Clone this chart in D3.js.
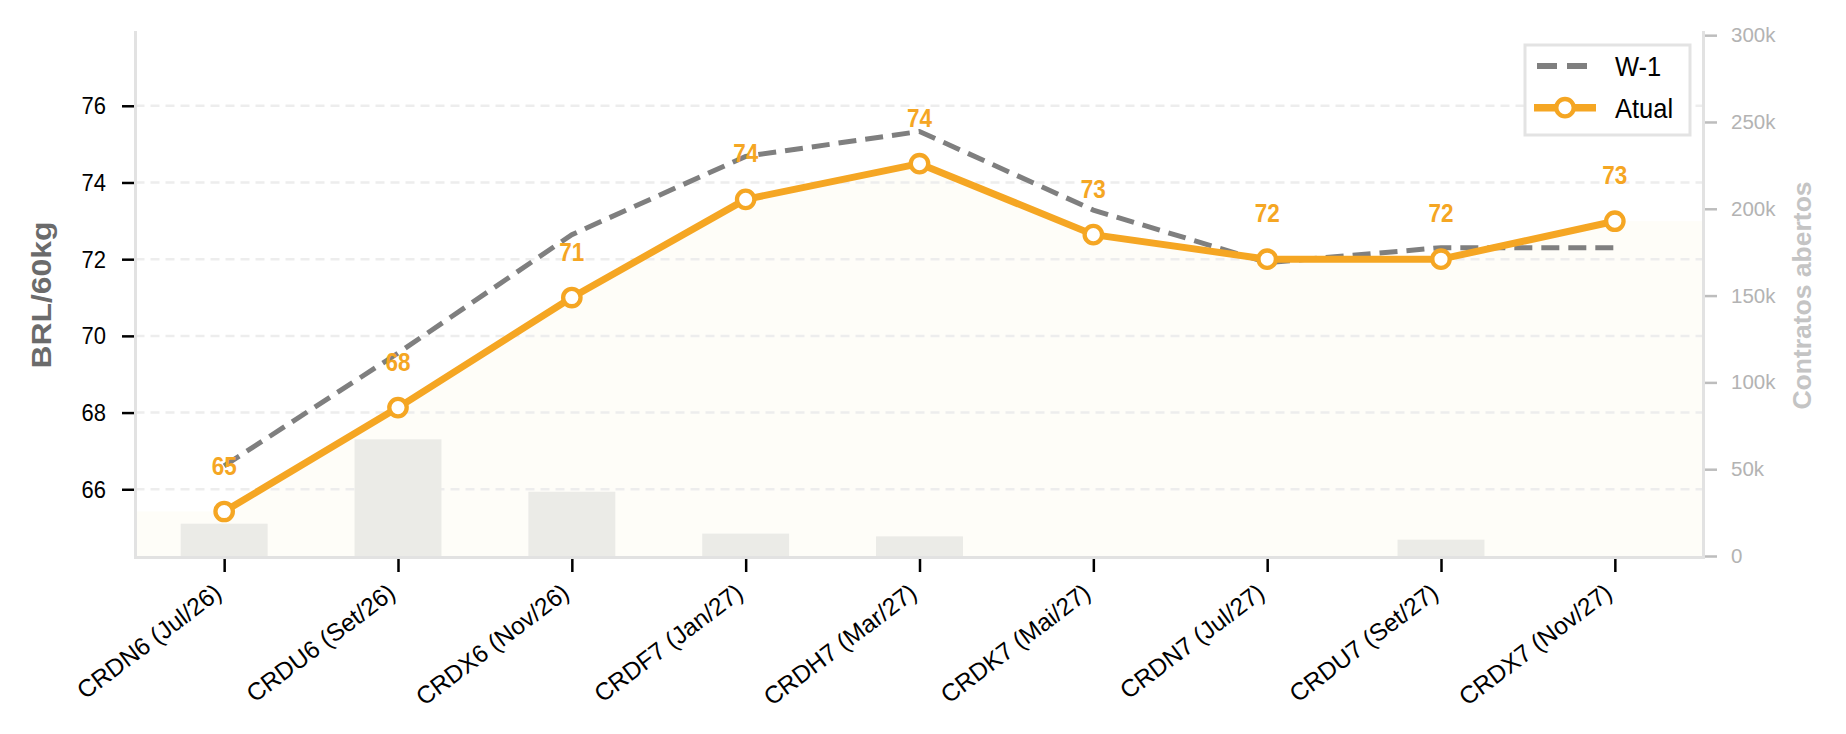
<!DOCTYPE html>
<html>
<head>
<meta charset="utf-8">
<script src="https://cdn.jsdelivr.net/npm/d3@7"></script>
<style>
  html, body { margin: 0; padding: 0; background: #fff; }
  svg { display: block; font-family: "Liberation Sans", Arial, sans-serif; }
</style>
</head>
<body>
<svg id="chart" width="1846" height="734"></svg>
<script>
// contratos da curva (eixo x)
const categories = ["CRDN6 (Jul/26)", "CRDU6 (Set/26)", "CRDX6 (Nov/26)", "CRDF7 (Jan/27)",
  "CRDH7 (Mar/27)", "CRDK7 (Mai/27)", "CRDN7 (Jul/27)", "CRDU7 (Set/27)", "CRDX7 (Nov/27)"];

// precos BRL/60kg
const atual = [65.42, 68.13, 71.0, 73.56, 74.49, 72.64, 72.0, 72.0, 72.99];
const semanaAnterior = [66.61, 69.55, 72.64, 74.68, 75.33, 73.28, 71.91, 72.30, 72.30];

// contratos abertos (barras, eixo direito)
const contratosAbertos = [18600, 67200, 37000, 12900, 11300, 0, 0, 9400, 0];

const leftTicks = [66, 68, 70, 72, 74, 76];
const rightTicks = [0, 50000, 100000, 150000, 200000, 250000, 300000];
const seriesNames = ["W-1", "Atual"];

const ORANGE = "#f5a623";
const GREY = "#7f7f7f";
const TALL = 1.12; // text in the original is drawn a bit taller than wide

const svg = d3.select("#chart");
// plot box
const m = { left: 135.5, right: 1703.5, top: 31, bottom: 556 };

const x = d3.scaleLinear()
  .domain([-0.51, categories.length - 1 + 0.51])
  .range([m.left, m.right]);
const y = d3.scaleLinear().domain([64.26, 77.95]).range([m.bottom, m.top]);
const y2 = d3.scaleLinear()
  .domain([0, d3.max(contratosAbertos) * 4.5])
  .range([m.bottom, m.top]);

// light fill under the current curve, carried flat to both edges
const xd = x.domain();
const fillPts = [[xd[0], atual[0]]]
  .concat(atual.map((v, i) => [i, v]))
  .concat([[xd[1], atual[atual.length - 1]]]);
svg.append("path")
  .datum(fillPts)
  .attr("fill", "#fefdf8")
  .attr("d", d3.area().x(d => x(d[0])).y0(m.bottom).y1(d => y(d[1])));

// horizontal grid
svg.append("g").selectAll("line")
  .data(leftTicks)
  .join("line")
  .attr("x1", m.left).attr("x2", m.right)
  .attr("y1", d => y(d)).attr("y2", d => y(d))
  .attr("stroke", "#ededed")
  .attr("stroke-width", 2.5)
  .attr("stroke-dasharray", "9,6");

// bars (open interest)
svg.append("g").selectAll("rect")
  .data(contratosAbertos.map((v, i) => ({ v, i })).filter(d => d.v > 0))
  .join("rect")
  .attr("x", d => x(d.i - 0.25))
  .attr("width", d => x(d.i + 0.25) - x(d.i - 0.25))
  .attr("y", d => y2(d.v))
  .attr("height", d => y2(0) - y2(d.v))
  .attr("fill", "#ebebe7");

// spines
const spine = svg.append("g").attr("stroke", "#e2e2e2").attr("stroke-width", 3);
spine.append("line").attr("x1", m.left).attr("x2", m.left).attr("y1", m.top).attr("y2", m.bottom + 1.5);
spine.append("line").attr("x1", m.right).attr("x2", m.right).attr("y1", m.top).attr("y2", m.bottom + 1.5);
spine.append("line").attr("x1", m.left - 1.5).attr("x2", m.right + 1.5).attr("y1", m.bottom + 1.5).attr("y2", m.bottom + 1.5);

// left axis
const gl = svg.append("g")
  .attr("transform", `translate(${m.left - 1.5},0)`)
  .call(d3.axisLeft(y).tickValues(leftTicks).tickSize(12).tickPadding(16).tickFormat(d3.format("d")));
gl.select(".domain").remove();
gl.selectAll(".tick line").attr("stroke", "#000").attr("stroke-width", 2.5);
gl.selectAll(".tick text").attr("fill", "#000").style("font-size", "22px")
  .attr("transform", `scale(1,${TALL})`)
  .style("font-family", "'Liberation Sans', Arial, sans-serif");

// right axis
const gr = svg.append("g")
  .attr("transform", `translate(${m.right + 1.5},0)`)
  .call(d3.axisRight(y2).tickValues(rightTicks).tickSize(12).tickPadding(14)
    .tickFormat(d => d === 0 ? "0" : (d / 1000) + "k"));
gr.select(".domain").remove();
gr.selectAll(".tick line").attr("stroke", "#bdbdbd").attr("stroke-width", 2.5);
gr.selectAll(".tick text").attr("fill", "#b3b3b3").style("font-size", "20.5px")
  .style("font-family", "'Liberation Sans', Arial, sans-serif");

// bottom axis: ticks only, labels rotated by hand
const gb = svg.append("g")
  .attr("transform", `translate(0,${m.bottom + 3})`)
  .call(d3.axisBottom(x).tickValues(d3.range(categories.length)).tickSize(13).tickFormat(""));
gb.select(".domain").remove();
gb.selectAll(".tick line").attr("stroke", "#000").attr("stroke-width", 2.5);

svg.append("g").selectAll("text")
  .data(categories)
  .join("text")
  .attr("transform", (d, i) => `translate(${x(i) - 1},596) rotate(-37)`)
  .attr("text-anchor", "end")
  .style("font-size", "24.5px")
  .attr("fill", "#000")
  .text(d => d);

// W-1 dashed line
const line = d3.line().x((d, i) => x(i)).y(d => y(d));
svg.append("path")
  .datum(semanaAnterior)
  .attr("fill", "none")
  .attr("stroke", GREY)
  .attr("stroke-width", 5)
  .attr("stroke-dasharray", "18,9")
  .attr("d", line);

// current line
svg.append("path")
  .datum(atual)
  .attr("fill", "none")
  .attr("stroke", ORANGE)
  .attr("stroke-width", 7)
  .attr("stroke-linejoin", "round")
  .attr("d", line);

svg.append("g").selectAll("circle")
  .data(atual)
  .join("circle")
  .attr("cx", (d, i) => x(i))
  .attr("cy", d => y(d))
  .attr("r", 8.7)
  .attr("fill", "#fff")
  .attr("stroke", ORANGE)
  .attr("stroke-width", 4.3);

// value labels
svg.append("g").selectAll("text")
  .data(atual)
  .join("text")
  .attr("transform", (d, i) => `translate(${x(i)},${y(d) - 37}) scale(1,1.15)`)
  .attr("text-anchor", "middle")
  .attr("fill", ORANGE)
  .style("font-size", "22.5px")
  .style("font-weight", "bold")
  .text(d => d3.format(".0f")(d));

// axis titles
svg.append("text")
  .attr("transform", "translate(41,295) scale(1,1.12) rotate(-90)")
  .attr("text-anchor", "middle")
  .attr("dy", "0.35em")
  .attr("fill", "#6b6b6b")
  .style("font-size", "28.5px")
  .style("font-weight", "bold")
  .text("BRL/60kg");

svg.append("text")
  .attr("transform", "translate(1802,295.5) scale(1,1.06) rotate(-90)")
  .attr("text-anchor", "middle")
  .attr("dy", "0.35em")
  .attr("fill", "#c4c4c4")
  .style("font-size", "25px")
  .style("font-weight", "bold")
  .text("Contratos abertos");

// legend
const lg = svg.append("g");
lg.append("rect")
  .attr("x", 1525).attr("y", 45).attr("width", 165).attr("height", 90)
  .attr("fill", "#fff").attr("stroke", "#e3e3e3").attr("stroke-width", 3);
const rowY = [66, 107.7];
lg.append("line")
  .attr("x1", 1537).attr("x2", 1587).attr("y1", rowY[0]).attr("y2", rowY[0])
  .attr("stroke", GREY).attr("stroke-width", 6).attr("stroke-dasharray", "20,10");
lg.append("line")
  .attr("x1", 1534).attr("x2", 1596).attr("y1", rowY[1]).attr("y2", rowY[1])
  .attr("stroke", ORANGE).attr("stroke-width", 7.5);
lg.append("circle")
  .attr("cx", 1565).attr("cy", rowY[1]).attr("r", 8.7)
  .attr("fill", "#fff").attr("stroke", ORANGE).attr("stroke-width", 4.3);
lg.selectAll("text.lab")
  .data(seriesNames)
  .join("text")
  .attr("class", "lab")
  .attr("transform", (d, i) => `translate(1615,${rowY[i]}) scale(1,${TALL})`)
  .attr("dy", "0.36em")
  .attr("fill", "#000")
  .style("font-size", "25.5px")
  .text(d => d);
</script>
</body>
</html>
